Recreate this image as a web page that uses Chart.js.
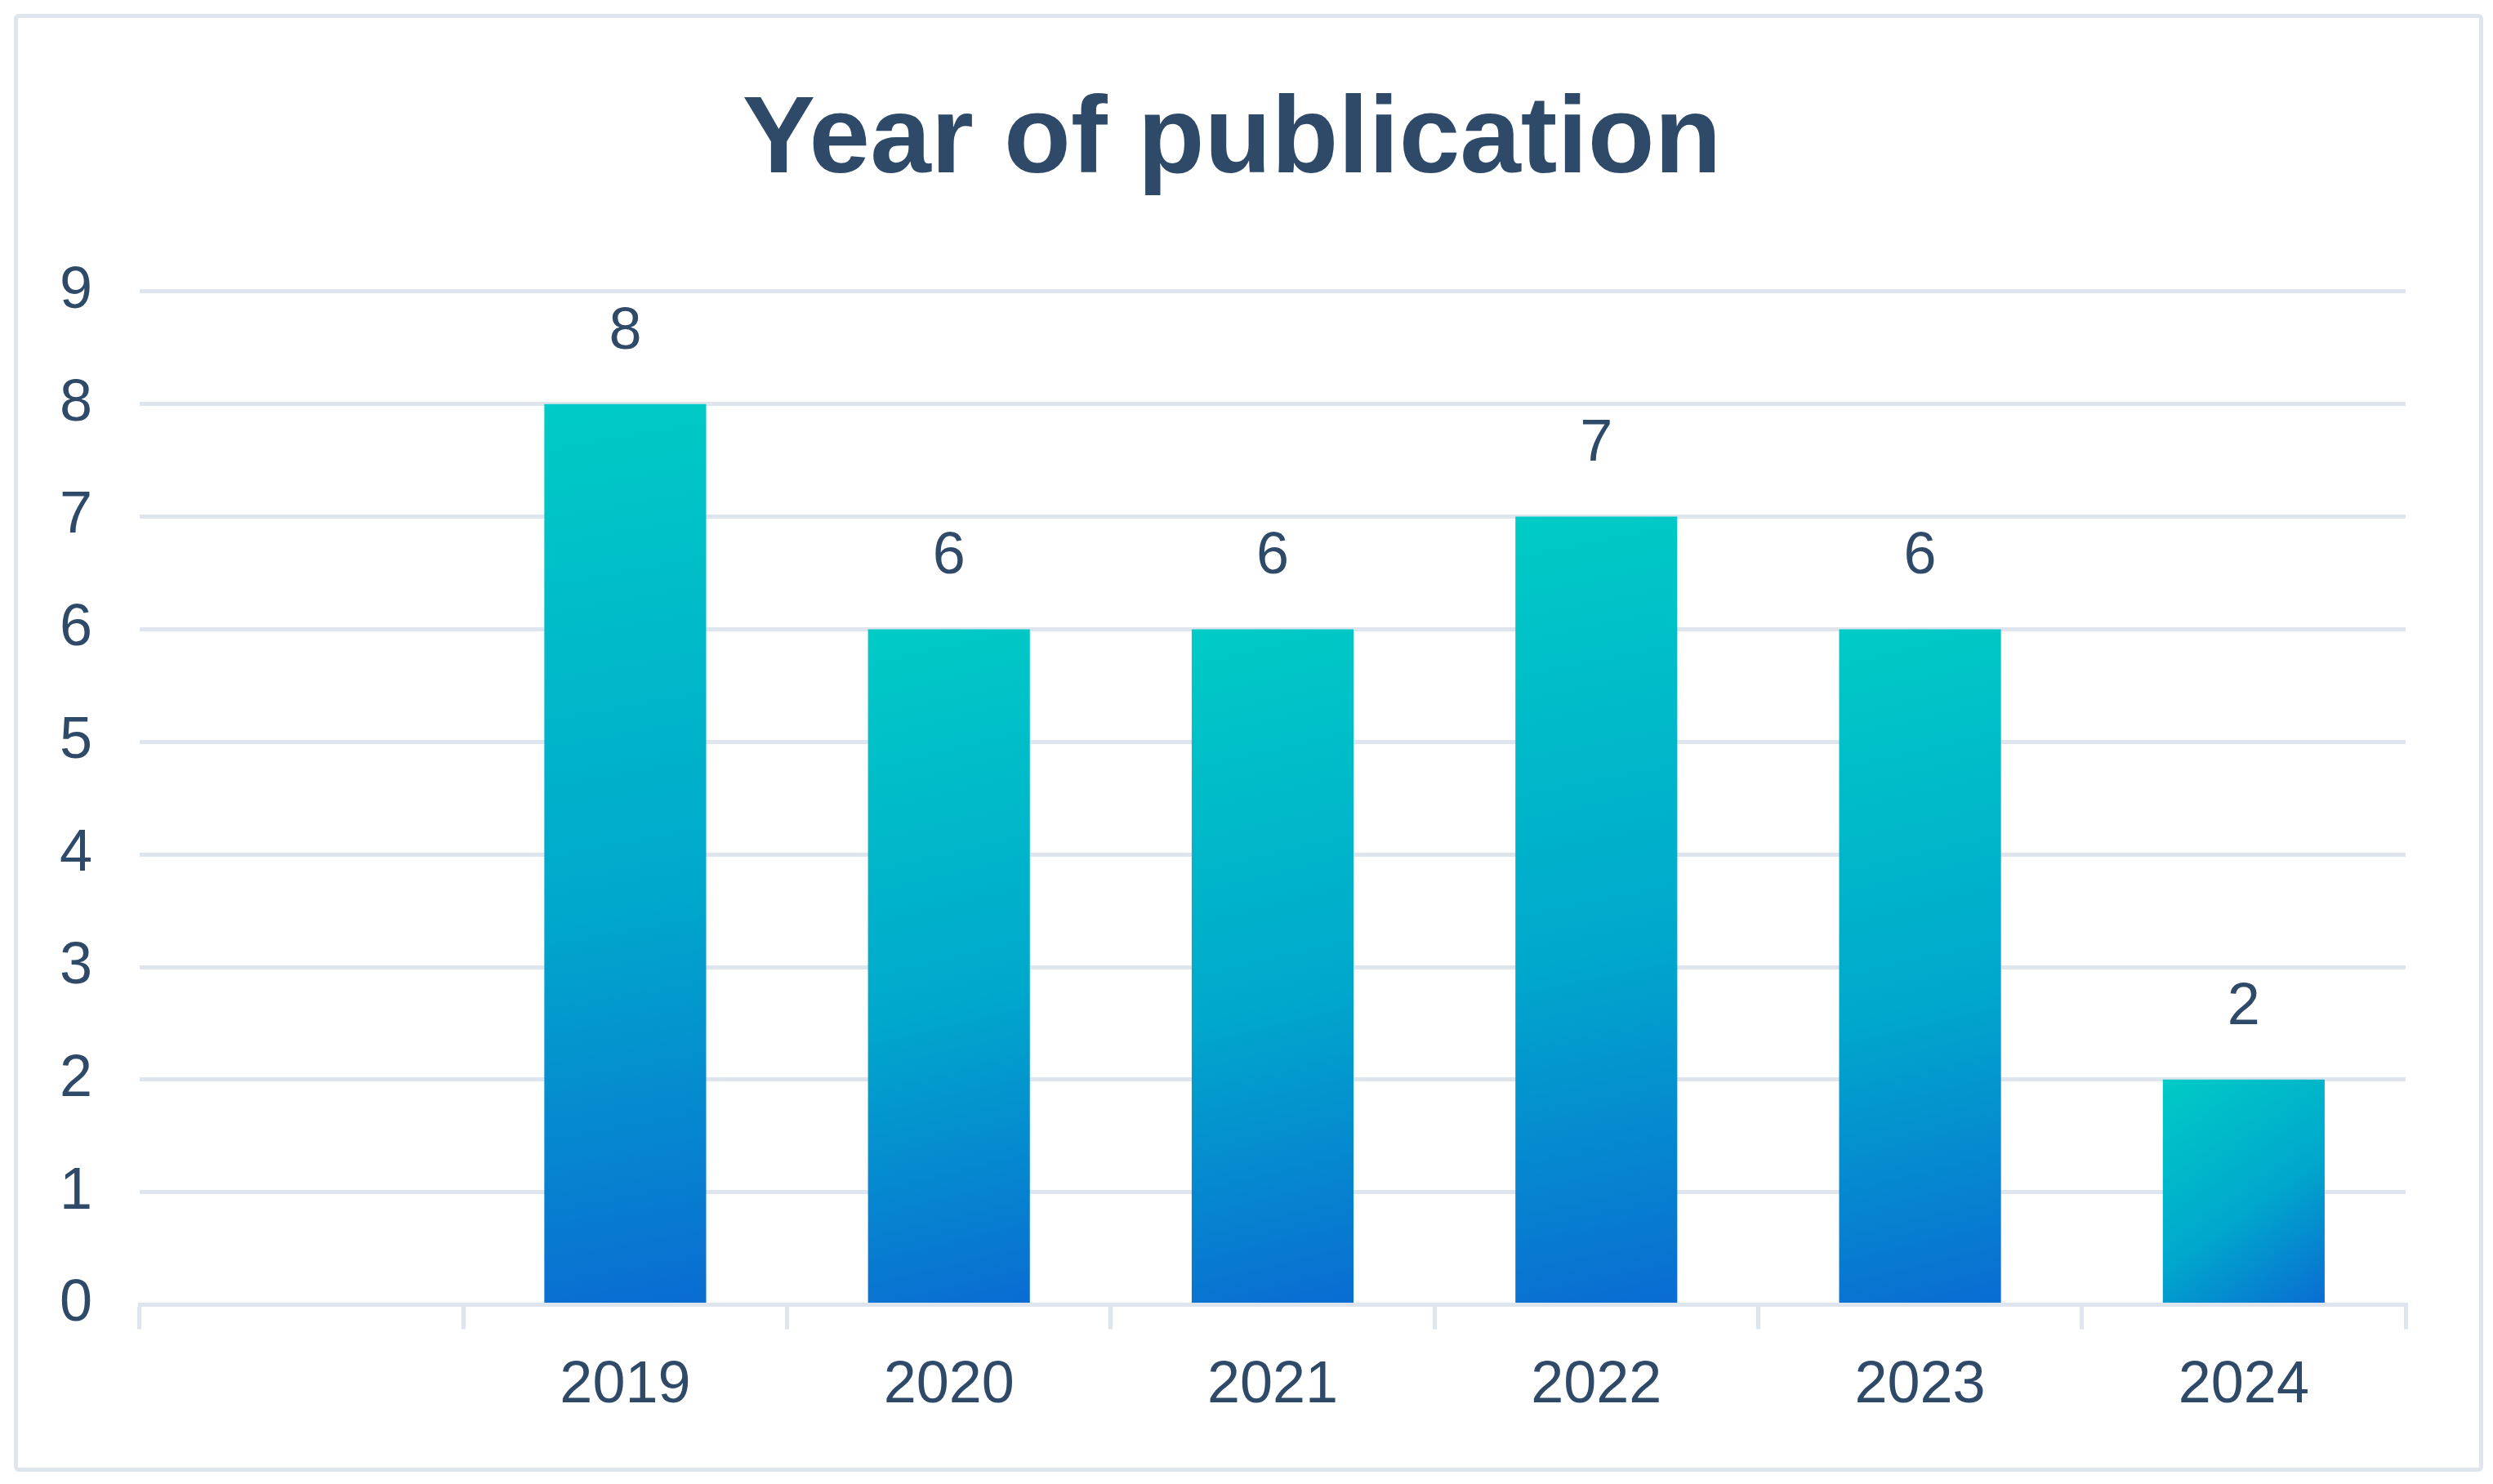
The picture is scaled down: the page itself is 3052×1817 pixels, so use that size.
<!DOCTYPE html>
<html>
<head>
<meta charset="utf-8">
<script src="https://cdn.jsdelivr.net/npm/chart.js@4.4.1/dist/chart.umd.min.js"></script>
<style>
  html, body { margin: 0; padding: 0; background: #fff; }
  #wrap { position: relative; width: 3052px; height: 1817px; }
  #frame {
    position: absolute; left: 17px; top: 17px; width: 3013px; height: 1775px;
    border: 5px solid #dfe5ec; border-radius: 6px; pointer-events: none;
  }
</style>
</head>
<body>
<div id="wrap">
  <canvas id="chart" width="3052" height="1817"></canvas>
  <div id="frame"></div>
</div>
<script>
// ── Data ─────────────────────────────────────────────────
const YEARS = ["", "2019", "2020", "2021", "2022", "2023", "2024"];
const PUBLICATIONS = [null, 8, 6, 6, 7, 6, 2];
const Y_TICKS = [0, 1, 2, 3, 4, 5, 6, 7, 8, 9];

// ── Theme ────────────────────────────────────────────────
const TEXT_COLOR = "#2e4a68";
const GRID_COLOR = "#dfe5ec";
const FONT = "'Liberation Sans', Arial, Helvetica, sans-serif";

Chart.defaults.font.family = FONT;
Chart.defaults.color = TEXT_COLOR;

// per-bar diagonal gradient (teal top-left -> blue bottom-right)
function barGradient(context) {
  const chart = context.chart;
  const { x: xs, y: ys } = chart.scales;
  const v = context.raw;
  if (!xs || !ys || v == null) return "#00c8c6";
  const half = (xs.width / YEARS.length) * 0.25;
  const cx = xs.getPixelForValue(context.dataIndex);
  const top = ys.getPixelForValue(v);
  const bottom = ys.getPixelForValue(0);
  if (!isFinite(cx) || !isFinite(top)) return "#00c8c6";
  const g = chart.ctx.createLinearGradient(cx - half, top, cx + half, bottom);
  g.addColorStop(0, "#00cbc6");
  g.addColorStop(0.55, "#00a8cc");
  g.addColorStop(1, "#0a6cd2");
  return g;
}

// value labels above bars
const valueLabels = {
  id: "valueLabels",
  afterDatasetsDraw(chart) {
    const { ctx } = chart;
    const meta = chart.getDatasetMeta(0);
    ctx.save();
    ctx.font = "72px " + FONT;
    ctx.fillStyle = TEXT_COLOR;
    ctx.textAlign = "center";
    ctx.textBaseline = "middle";
    meta.data.forEach((bar, i) => {
      const v = PUBLICATIONS[i];
      if (v == null) return;
      ctx.fillText(String(v), bar.x, bar.y - 88);
    });
    ctx.restore();
  }
};

new Chart(document.getElementById("chart"), {
  type: "bar",
  data: {
    labels: YEARS,
    datasets: [{
      data: PUBLICATIONS,
      backgroundColor: barGradient,
      borderWidth: 0,
      barPercentage: 0.5,
      categoryPercentage: 1.0
    }]
  },
  plugins: [valueLabels],
  options: {
    responsive: false,
    animation: false,
    layout: { padding: { left: 71, right: 107, top: 94, bottom: 51 } },
    plugins: {
      legend: { display: false },
      tooltip: { enabled: false },
      title: {
        display: true,
        text: "Year of publication",
        color: TEXT_COLOR,
        font: { size: 134, weight: "bold", family: FONT },
        padding: { top: 0, bottom: 102 }
      }
    },
    scales: {
      x: {
        offset: true,
        grid: {
          offset: true,
          drawOnChartArea: false,
          drawTicks: true,
          tickLength: 30,
          color: GRID_COLOR,
          lineWidth: 5
        },
        border: { display: true, color: GRID_COLOR, width: 5 },
        ticks: { font: { size: 72 }, color: TEXT_COLOR, padding: 26, maxRotation: 0 }
      },
      y: {
        min: 0,
        max: 9,
        afterBuildTicks: axis => { axis.ticks = Y_TICKS.map(v => ({ value: v })); },
        afterFit: axis => { axis.width = 100; },
        grid: { color: GRID_COLOR, lineWidth: 5, drawTicks: false },
        border: { display: false },
        ticks: { font: { size: 72 }, color: TEXT_COLOR, padding: 58 }
      }
    }
  }
});
</script>
</body>
</html>
